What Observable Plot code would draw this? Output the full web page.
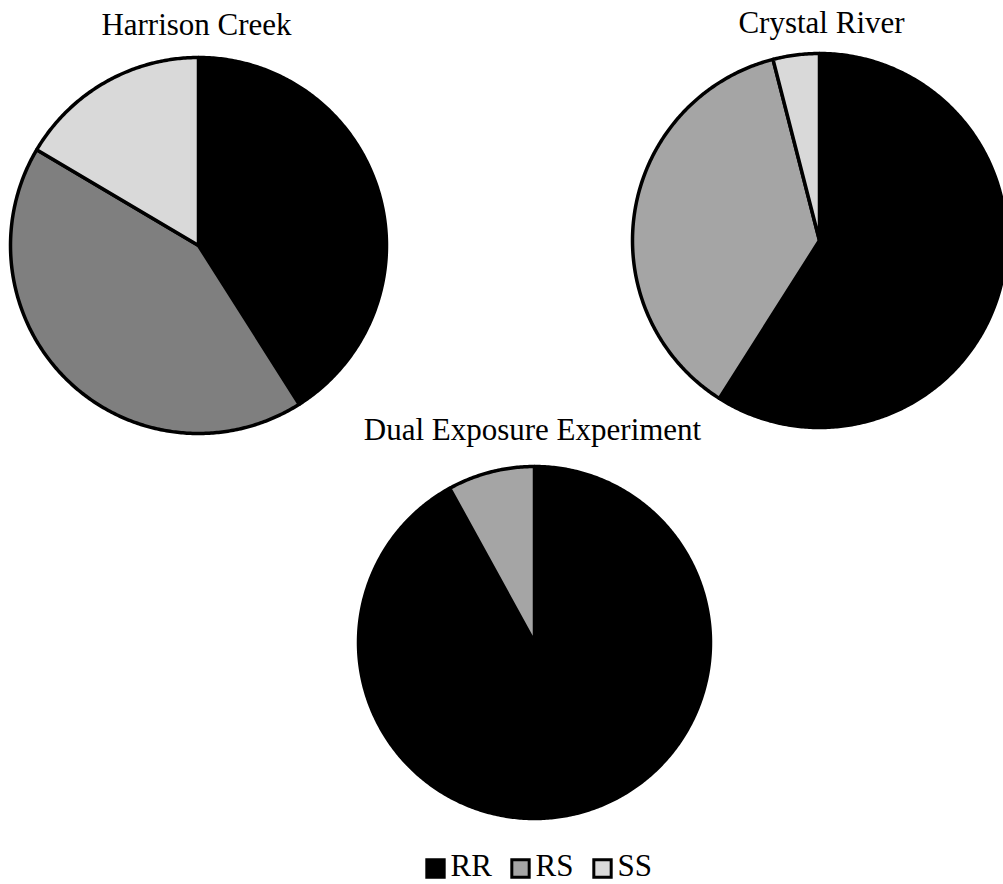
<!DOCTYPE html>
<html>
<head>
<meta charset="utf-8">
<script src="https://cdn.jsdelivr.net/npm/d3@7"></script>
<script src="https://cdn.jsdelivr.net/npm/@observablehq/plot@0.6"></script>
<style>
  body { margin: 0; background: #fff; overflow: hidden; }
  #chart svg { display: block; }
</style>
</head>
<body>
<div id="chart"></div>
<script>
// datos (porcentajes)
const genotypes = ["RR", "RS", "SS"]
const sites = ["Harrison Creek", "Crystal River", "Dual Exposure Experiment"]
const harrisonCreek = [41, 42.5, 16.5]
const crystalRiver = [59, 37, 4]
const dualExposure = [92, 8, 0]

// estilo / disposición
const W = 1003, H = 884
const pies = [
  {name: sites[0], values: harrisonCreek, cx: 198, cy: 245, r: 188, ty: 25, tx: 196,
   colors: ["#000000", "#7f7f7f", "#d9d9d9"]},
  {name: sites[1], values: crystalRiver, cx: 819, cy: 240, r: 187, ty: 23, tx: 821,
   colors: ["#000000", "#a5a5a5", "#d9d9d9"]},
  {name: sites[2], values: dualExposure, cx: 534, cy: 642, r: 176, ty: 430, tx: 532,
   colors: ["#000000", "#a5a5a5", "#d9d9d9"]}
]
const legendColors = ["#000000", "#a5a5a5", "#d9d9d9"]
const legendX = [435, 520, 602]

// polígonos de cada porción
const slices = []
pies.forEach(p => {
  const arcs = d3.pie().sort(null).value(d => d)(p.values)
  arcs.forEach((a, i) => {
    if (a.value <= 0) return
    const id = p.name + "-" + genotypes[i]
    const color = p.colors[i]
    slices.push({id, color, x: p.cx, y: p.cy})
    const n = Math.max(2, Math.ceil((a.endAngle - a.startAngle) / 0.01))
    for (let k = 0; k <= n; k++) {
      const t = a.startAngle + (a.endAngle - a.startAngle) * k / n
      slices.push({id, color, x: p.cx + p.r * Math.sin(t), y: p.cy - p.r * Math.cos(t)})
    }
    slices.push({id, color, x: p.cx, y: p.cy})
  })
})

const legend = genotypes.map((g, i) => ({g, color: legendColors[i], x: legendX[i]}))

const chart = Plot.plot({
  width: W,
  height: H,
  margin: 0,
  x: {domain: [0, W], axis: null},
  y: {domain: [0, H], reverse: true, axis: null},
  style: {fontFamily: "'Liberation Serif', 'Times New Roman', serif", background: "#fff"},
  marks: [
    Plot.line(slices, {
      x: "x", y: "y", z: "id", fill: "color",
      stroke: "#000", strokeWidth: 3.5, strokeLinejoin: "round", curve: "linear"
    }),
    Plot.text(pies, {x: "tx", y: "ty", text: "name", fontSize: 31, fill: "#000", textAnchor: "middle"}),
    Plot.dot(legend, {x: "x", y: 868, symbol: "square", r: 9.8, fill: "color", stroke: "#000", strokeWidth: 3}),
    Plot.text(legend, {x: d => d.x + 15, y: 866, text: "g", fontSize: 31, fill: "#000", textAnchor: "start"})
  ]
})

d3.select('#chart').append(() => chart)
</script>
</body>
</html>
